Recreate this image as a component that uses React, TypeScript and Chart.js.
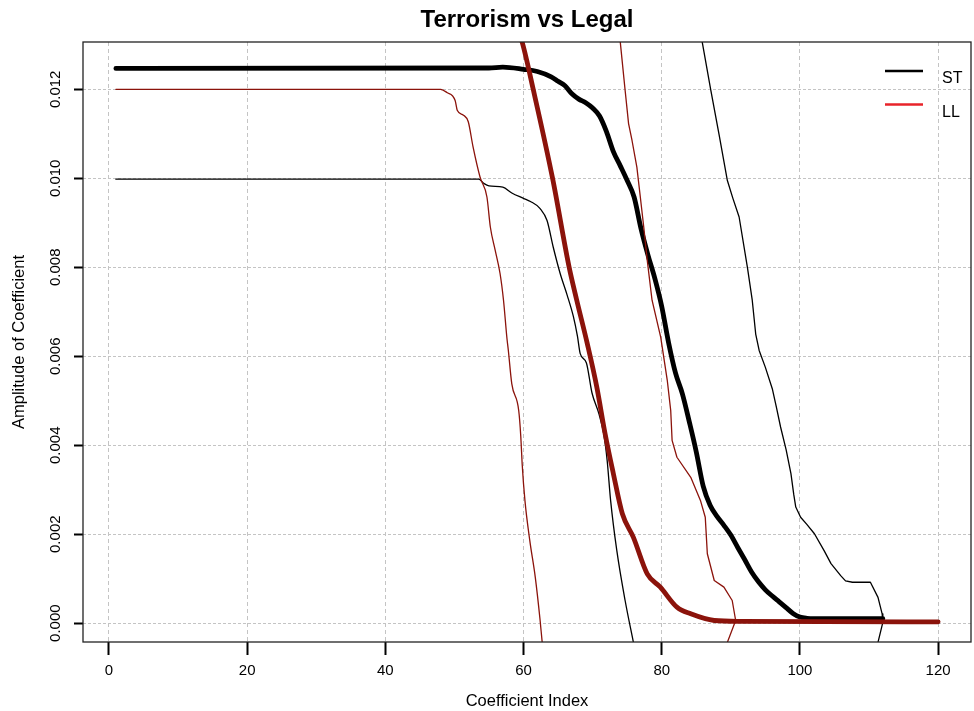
import React, { useEffect, useRef } from "react";
import { Chart, registerables } from "chart.js";

Chart.register(...registerables);

const FONT = '"Liberation Sans", Arial, Helvetica, sans-serif';

const TITLE = "Terrorism vs Legal";
const X_LABEL = "Coefficient Index";
const Y_LABEL = "Amplitude of Coefficient";
const X_TICKS = [0, 20, 40, 60, 80, 100, 120];
const Y_TICKS = [0, 0.002, 0.004, 0.006, 0.008, 0.01, 0.012];
const LEGEND_LABELS = ["ST", "LL"];

// ST mean (thick black)
const ST_MEAN_X = [1, 55, 57, 60, 62, 64, 65, 66, 67, 68, 69, 70, 71, 72, 73, 74, 75, 76, 77, 78, 79, 80, 81, 82, 83, 84, 85, 86, 87, 88, 89, 90, 91, 92, 93, 94, 95, 96, 97, 98, 99, 100, 101, 102, 112];
const ST_MEAN_Y = [0.01247, 0.01248, 0.0125, 0.01245, 0.0124, 0.01228, 0.01218, 0.01208, 0.0119, 0.01178, 0.0117, 0.01158, 0.0114, 0.01105, 0.0106, 0.01028, 0.00995, 0.00958, 0.00887, 0.00828, 0.00775, 0.00712, 0.0063, 0.00562, 0.00515, 0.00452, 0.00385, 0.00308, 0.00265, 0.0024, 0.0022, 0.00198, 0.0017, 0.00143, 0.00115, 0.00093, 0.00075, 0.00061, 0.00048, 0.00035, 0.00022, 0.00014, 0.00011, 0.0001, 0.0001];

// ST lower (thin black)
const ST_LOW_X = [1, 53.5, 54.3, 55, 57, 58.3, 60, 61, 62.4, 63.4, 64.3, 65.3, 66.3, 67.2, 67.8, 68.2, 69.1, 69.9, 70.9, 71.6, 72.1, 72.6, 73.5, 74.7, 75.9, 76.5];
const ST_LOW_Y = [0.00998, 0.00998, 0.00988, 0.00983, 0.0098, 0.00967, 0.00955, 0.00948, 0.00932, 0.00905, 0.00845, 0.00786, 0.00738, 0.0069, 0.00645, 0.00606, 0.00585, 0.00518, 0.00471, 0.00426, 0.00366, 0.00276, 0.00163, 0.00051, -0.00043, -0.0009];

// ST upper (thin black)
const ST_UP_X = [1, 82, 84.5, 85.9, 87.1, 88.3, 89.5, 90.3, 91.2, 92.4, 93.1, 93.6, 94.1, 95, 96, 96.6, 97.2, 98, 98.7, 99.1, 99.4, 100.1, 101, 102.1, 103.5, 104.5, 105.9, 106.6, 107.6, 110.2, 111.3, 111.9, 112, 111.3, 111];
const ST_UP_Y = [0.015, 0.015, 0.0141, 0.01303, 0.01198, 0.01098, 0.00995, 0.00955, 0.00913, 0.008, 0.00726, 0.0065, 0.00613, 0.00575, 0.00527, 0.00485, 0.00441, 0.0039, 0.00336, 0.0029, 0.00261, 0.00238, 0.00222, 0.00201, 0.00163, 0.00134, 0.00107, 0.00095, 0.00092, 0.00092, 0.00058, 0.00021, 0.00002, -0.00043, -0.0006];

// LL mean (thick dark red)
const LL_MEAN_X = [1, 57, 59, 59.8, 61.4, 64.2, 66.6, 67.7, 69.2, 70.6, 71.8, 73, 74.3, 75.9, 77.9, 79.8, 82.2, 84.2, 87.6, 91.4, 120];
const LL_MEAN_Y = [0.014, 0.014, 0.0134, 0.01306, 0.012, 0.01, 0.008, 0.00726, 0.0063, 0.00531, 0.00426, 0.00336, 0.00246, 0.00193, 0.00111, 0.00081, 0.00036, 0.00021, 0.00006, 0.00004, 0.00003];

// LL lower (thin dark red)
const LL_LOW_X = [1, 48, 48.9, 50.1, 50.4, 51.3, 52, 52.7, 53.7, 54.7, 55.2, 55.9, 56.6, 57.1, 57.6, 57.8, 58.3, 59.3, 59.6, 59.8, 60.2, 60.9, 61.7, 62.4, 62.7, 62.9];
const LL_LOW_Y = [0.012, 0.012, 0.01193, 0.01175, 0.01153, 0.01142, 0.01127, 0.0107, 0.01003, 0.00958, 0.0089, 0.00838, 0.00786, 0.00726, 0.0064, 0.00613, 0.00538, 0.00478, 0.0042, 0.00358, 0.00276, 0.00186, 0.00103, 0.00006, -0.00043, -0.0007];

// LL upper (thin dark red)
const LL_UP_X = [1, 70, 72.5, 74, 74.7, 75.2, 75.7, 76.4, 76.9, 77.4, 77.9, 78.6, 79.85, 80.8, 81.3, 81.5, 82.2, 84.2, 85.6, 86.3, 86.6, 87.6, 89, 90.2, 90.7, 89.5, 89.2];
const LL_UP_Y = [0.015, 0.015, 0.014, 0.01306, 0.01198, 0.01123, 0.01085, 0.01025, 0.00958, 0.0089, 0.00816, 0.00726, 0.00643, 0.00546, 0.00478, 0.00411, 0.00373, 0.00328, 0.00276, 0.00238, 0.00156, 0.00096, 0.00081, 0.00051, 0.00006, -0.00043, -0.0006];

const BLACK = "#000000";
const DARK_RED = "#8B130B";
const LEGEND_COLORS = ["#000000", "#E8232A"];

const pts = (xs: number[], ys: number[]) => xs.map((x, i) => ({ x, y: ys[i] }));

const overlayPlugin = {
  id: "overlay",
  afterDatasetsDraw(chart: any) {
    const { ctx, chartArea } = chart;
    const ys = chart.scales.y;
    ctx.save();
    // box
    ctx.strokeStyle = "#222";
    ctx.lineWidth = 1.3;
    ctx.strokeRect(chartArea.left, chartArea.top, chartArea.right - chartArea.left, chartArea.bottom - chartArea.top);
    // y tick labels (rotated)
    ctx.font = `15px ${FONT}`;
    ctx.fillStyle = "#000";
    ctx.textAlign = "center";
    ctx.textBaseline = "middle";
    ys.ticks.forEach((t: any) => {
      const py = ys.getPixelForValue(t.value);
      ctx.save();
      ctx.translate(chartArea.left - 27, py);
      ctx.rotate(-Math.PI / 2);
      ctx.fillText(Number(t.value).toFixed(3), 0, 0);
      ctx.restore();
    });
    // legend
    const lx1 = chartArea.right - 86;
    const lx2 = chartArea.right - 48;
    const rows = [
      { lineY: chartArea.top + 29, textY: chartArea.top + 37 },
      { lineY: chartArea.top + 62.5, textY: chartArea.top + 70.5 },
    ];
    LEGEND_LABELS.forEach((lab, i) => {
      ctx.strokeStyle = LEGEND_COLORS[i];
      ctx.lineWidth = 2.6;
      ctx.beginPath();
      ctx.moveTo(lx1, rows[i].lineY);
      ctx.lineTo(lx2, rows[i].lineY);
      ctx.stroke();
      ctx.fillStyle = "#000";
      ctx.textAlign = "left";
      ctx.textBaseline = "middle";
      ctx.font = `16px ${FONT}`;
      ctx.fillText(lab, chartArea.right - 29, rows[i].textY);
    });
    ctx.restore();
  },
};

export default function App() {
  const ref = useRef<HTMLCanvasElement | null>(null);
  useEffect(() => {
    document.body.style.margin = "0";
    if (!ref.current) return;
    const chart = new Chart(ref.current, {
      type: "line",
      data: {
        datasets: [
          { label: "LL upper", data: pts(LL_UP_X, LL_UP_Y), borderColor: DARK_RED, borderWidth: 1.3, tension: 0, order: 0 },
          { label: "LL lower", data: pts(LL_LOW_X, LL_LOW_Y), borderColor: DARK_RED, borderWidth: 1.3, cubicInterpolationMode: "monotone", order: 1 },
          { label: "LL mean", data: pts(LL_MEAN_X, LL_MEAN_Y), borderColor: DARK_RED, borderWidth: 4.8, cubicInterpolationMode: "monotone", order: 2 },
          { label: "ST upper", data: pts(ST_UP_X, ST_UP_Y), borderColor: BLACK, borderWidth: 1.3, tension: 0, order: 3 },
          { label: "ST lower", data: pts(ST_LOW_X, ST_LOW_Y), borderColor: BLACK, borderWidth: 1.3, cubicInterpolationMode: "monotone", order: 4 },
          { label: "ST mean", data: pts(ST_MEAN_X, ST_MEAN_Y), borderColor: BLACK, borderWidth: 4.8, cubicInterpolationMode: "monotone", order: 5 },
        ] as any,
      },
      options: {
        animation: false,
        responsive: false,
        devicePixelRatio: 1,
        elements: { point: { radius: 0, hoverRadius: 0 }, line: { borderCapStyle: "round", borderJoinStyle: "round", fill: false } },
        datasets: { line: { clip: 0 } } as any,
        layout: { padding: { top: 0, right: 3, bottom: 0, left: 0 } },
        plugins: {
          legend: { display: false },
          tooltip: { enabled: false },
          title: {
            display: true,
            text: TITLE,
            fullSize: false,
            color: "#000",
            font: { family: FONT, size: 24, weight: "bold" },
            padding: { top: 5.6, bottom: 7.6 },
          },
        },
        scales: {
          x: {
            type: "linear",
            min: -3.76,
            max: 124.76,
            afterBuildTicks: (s: any) => { s.ticks = X_TICKS.map((v) => ({ value: v })); },
            afterFit: (s: any) => { s.height = 69; },
            ticks: { font: { family: FONT, size: 15 }, color: "#000", padding: 7, maxRotation: 0, autoSkip: false },
            grid: { color: "#c4c4c4", lineWidth: 1, tickLength: 13, tickColor: "#000", tickWidth: 2, drawTicks: true },
            border: { display: false, dash: [4, 3] },
            title: { display: true, text: X_LABEL, color: "#000", font: { family: FONT, size: 16.5 }, padding: { top: 0, bottom: 0 } },
          },
          y: {
            type: "linear",
            min: -0.000423,
            max: 0.013064,
            afterBuildTicks: (s: any) => { s.ticks = Y_TICKS.map((v) => ({ value: v })); },
            afterFit: (s: any) => { s.width = 83; },
            ticks: { display: false },
            grid: { color: "#c4c4c4", lineWidth: 1, tickLength: 9, tickColor: "#000", tickWidth: 2, drawTicks: true },
            border: { display: false, dash: [3, 2] },
            title: { display: true, text: Y_LABEL, color: "#000", font: { family: FONT, size: 16.5 }, padding: { top: 10, bottom: 0 } },
          },
        },
      } as any,
      plugins: [overlayPlugin],
    });
    return () => chart.destroy();
  }, []);
  return <canvas ref={ref} width={974} height={711} style={{ display: "block" }} />;
}
